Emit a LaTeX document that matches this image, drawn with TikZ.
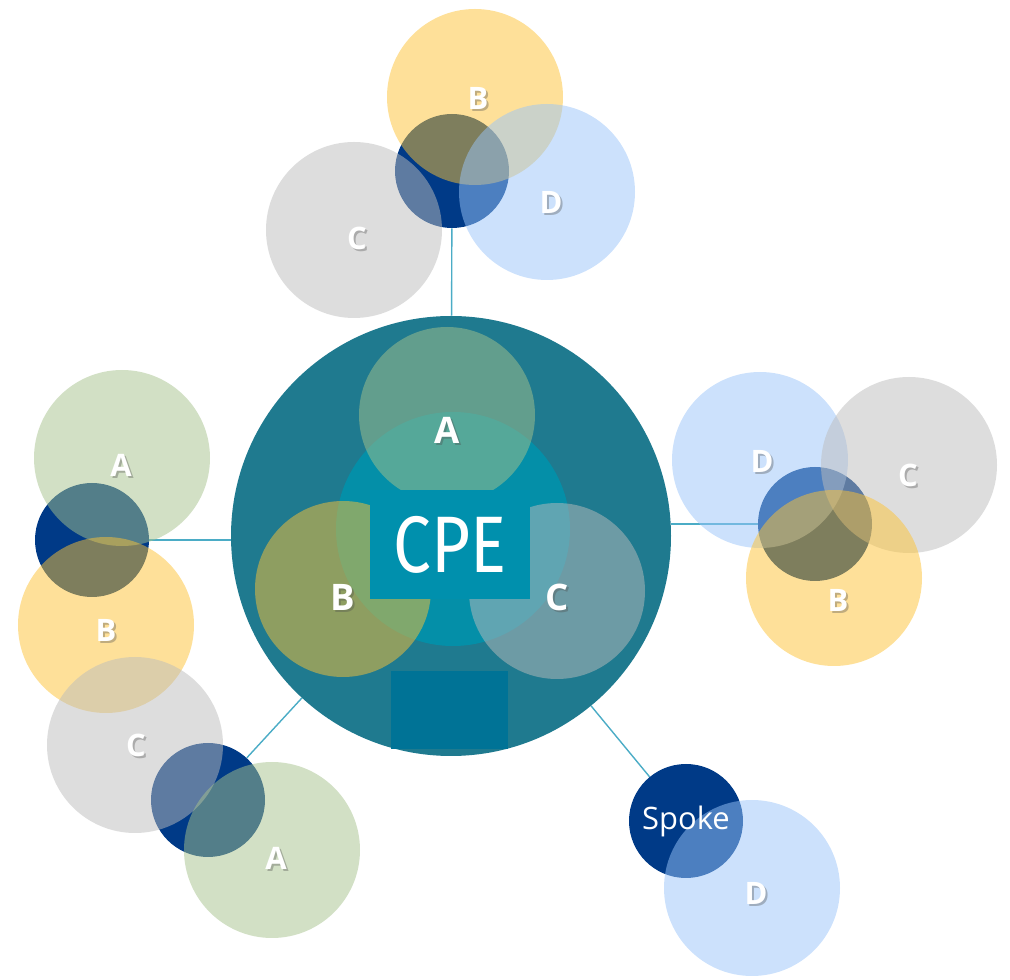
\documentclass[tikz,border=0pt]{standalone}
\usepackage{fontspec}
\usepackage{tikz}
\usetikzlibrary{backgrounds}
\newfontfamily\labfont{Open Sans}
\newfontfamily\cpefont{Fira Sans}
\definecolor{hubcol}{RGB}{31,122,143}
\definecolor{innercol}{RGB}{4,143,168}
\definecolor{cpecol}{RGB}{0,144,173}
\definecolor{boxcol}{RGB}{0,115,150}
\definecolor{navy}{RGB}{0,58,135}
\definecolor{cA}{RGB}{166,194,140}
\definecolor{cB}{RGB}{253,194,52}
\definecolor{cC}{RGB}{188,188,188}
\definecolor{cD}{RGB}{153,196,249}
\definecolor{linkcol}{RGB}{75,172,198}
% white letter with a soft drop shadow
\newcommand\letter[4][satlab]{%
  \node[#1, text=black!70, text opacity=0.35] at ([shift={(0.05,-0.05)}]#3) {#4};
  \node[#1] (#2) at (#3) {#4};}

\begin{document}
\begin{tikzpicture}[
  sat/.style={circle, inner sep=0pt, minimum size=4.4cm, fill opacity=0.5},
  spk/.style={circle, inner sep=0pt, minimum size=2.85cm, fill=navy},
  hublab/.style={text=white, font=\labfont\bfseries\fontsize{26}{26}\selectfont},
  satlab/.style={text=white, font=\labfont\bfseries\fontsize{22}{22}\selectfont},
  link/.style={draw=linkcol, line width=1pt}]
\useasboundingbox (0,0) rectangle (25.25,24.5);
%hub
\node[circle, inner sep=0pt, minimum size=11cm, fill=hubcol] (hub) at (11.275,11.1) {};
\node[circle, inner sep=0pt, minimum size=5.85cm, fill=innercol] (inner) at (11.325,11.275) {};
\node[rectangle, inner sep=0pt, minimum width=2.925cm, minimum height=1.95cm, fill=boxcol] (box) at (11.24,6.75) {};
\node[sat, fill=cA] (hA) at (11.175,14.125) {};
\node[sat, fill=cB] (hB) at (8.575,9.775) {};
\node[sat, fill=cC] (hC) at (13.925,9.725) {};
\node[rectangle, inner sep=0pt, minimum width=4cm, minimum height=2.725cm, fill=cpecol] (cpe) at (11.25,10.89) {};
%top
\node[spk] (nT) at (11.3,20.225) {};
\node[sat, fill=cC] (tC) at (8.85,18.75) {};
\node[sat, fill=cB] (tB) at (11.875,22.075) {};
\node[sat, fill=cD] (tD) at (13.675,19.7) {};
%right
\node[spk] (nR) at (20.375,11.4) {};
\node[sat, fill=cD] (rD) at (19,13) {};
\node[sat, fill=cC] (rC) at (22.725,12.875) {};
\node[sat, fill=cB] (rB) at (20.85,10.05) {};
%left
\node[spk] (nL) at (2.3,11) {};
\node[sat, fill=cA] (lA) at (3.05,13.05) {};
\node[sat, fill=cB] (lB) at (2.65,8.875) {};
%lower left
\node[spk] (nLL) at (5.2,4.5) {};
\node[sat, fill=cC] (llC) at (3.375,5.875) {};
\node[sat, fill=cA] (llA) at (6.8,3.25) {};
%lower right
\node[spk] (nLR) at (17.15,3.975) {};
\node[sat, fill=cD] (lrD) at (18.8,2.3) {};
%links
\begin{scope}[on background layer]
\draw[link] (hub) -- (nT);
\draw[link] (hub.east |- nR) -- (nR);
\draw[link] (hub.west |- nL) -- (nL);
\draw[link] (hub) -- (nLL);
\draw[link] (hub) -- (nLR);
\end{scope}
%labels
\letter[hublab]{tA0}{11.175,13.75}{A}
\letter[hublab]{tB0}{8.575,9.575}{B}
\letter[hublab]{tC0}{13.925,9.575}{C}
\node[text=white, font=\cpefont\fontsize{57}{57}\selectfont, xscale=0.84] (tcpe) at (11.25,10.89) {CPE};
\letter{tB1}{11.95,22.05}{B}
\letter{tC1}{8.925,18.55}{C}
\letter{tD1}{13.775,19.45}{D}
\letter{tD2}{19.05,12.975}{D}
\letter{tC2}{22.7,12.625}{C}
\letter{tB2}{20.95,9.5}{B}
\letter{tA3}{3.025,12.875}{A}
\letter{tB3}{2.65,8.75}{B}
\letter{tC4}{3.4,5.875}{C}
\letter{tA4}{6.9,3.05}{A}
\node[text=white, font=\labfont\fontsize{22}{22}\selectfont] (tspk) at (17.15,3.975) {Spoke};
\letter{tD5}{18.9,2.175}{D}
\end{tikzpicture}
\end{document}
